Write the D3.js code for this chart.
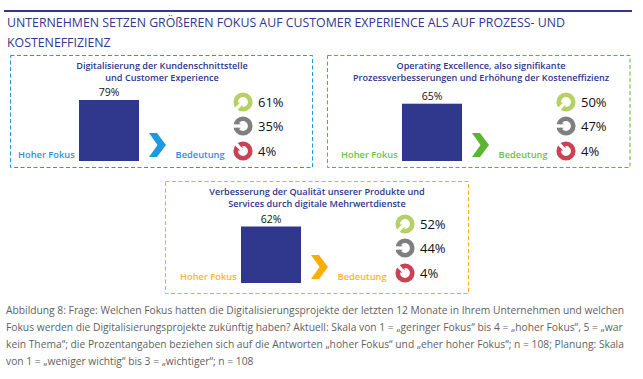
<!DOCTYPE html>
<html><head><meta charset="utf-8">
<script src="https://cdnjs.cloudflare.com/ajax/libs/d3/7.8.5/d3.min.js"></script>
<style>html,body{margin:0;background:#fff}svg{display:block}text{font-family:"Open Sans",sans-serif}</style>
</head><body><svg id="c" width="643" height="379"></svg>
<script>
const titleLines=["UNTERNEHMEN SETZEN GRÖßEREN FOKUS AUF CUSTOMER EXPERIENCE ALS AUF PROZESS- UND","KOSTENEFFIZIENZ"];
const footLines=["Abbildung 8: Frage: Welchen Fokus hatten die Digitalisierungsprojekte der letzten 12 Monate in Ihrem Unternehmen und welchen",
"Fokus werden die Digitalisierungsprojekte zukünftig haben? Aktuell: Skala von 1 = „geringer Fokus“ bis 4 = „hoher Fokus“, 5 = „war",
"kein Thema“; die Prozentangaben beziehen sich auf die Antworten „hoher Fokus“ und „eher hoher Fokus“; n = 108; Planung: Skala",
"von 1 = „weniger wichtig“ bis 3 = „wichtiger“; n = 108"];
const panelTitles=[["Digitalisierung der Kundenschnittstelle","und Customer Experience"],
["Operating Excellence, also signifikante","Prozessverbesserungen und Erhöhung der Kosteneffizienz"],
["Verbesserung der Qualität unserer Produkte und","Services durch digitale Mehrwertdienste"]];
const focusValues=[79,65,62];
const risingValues=[61,50,52];
const steadyValues=[35,47,44];
const fallingValues=[4,4,4];
const accentColors=["#1b9ae0","#5cb531","#fcae07"];
const labelColors=["#2f8fdc","#6cc24a","#fdb42c"];
const focusLabel="Hoher Fokus", planLabel="Bedeutung";
const navy="#2f388c";
const trendColors=["#b5d165","#7f7f7f","#c94354"];
const trendAngles=[-45,0,45];

const frames=[{x:10.5,y:55.5,w:302,h:112,tx:162,dx:0,dy:0},{x:327.5,y:55.5,w:302.5,h:112,tx:481,dx:323,dy:0},{x:165.5,y:181.5,w:303,h:112,tx:317,dx:162,dy:122}];
const svg=d3.select("#c");
svg.append("rect").attr("x",4).attr("y",10).attr("width",628).attr("height",2).attr("fill",navy);
svg.selectAll(".t").data(titleLines).join("text").attr("x",7).attr("y",(d,i)=>27+i*20)
  .attr("font-size",12.35).attr("fill",navy).text(d=>d);
svg.selectAll(".f").data(footLines).join("text").attr("x",6).attr("y",(d,i)=>313.5+i*17)
  .attr("font-size",10.27).attr("fill","#5f5f5f").text(d=>d);

const barH=d3.scaleLinear().domain([62,79]).range([56.5,61]);
const arc=d3.arc();
const line=d3.line();
function icon(g,cx,cy,k){
  const n=g.append("g").attr("transform",`translate(${cx},${cy}) rotate(${trendAngles[k]})`);
  n.append("path").attr("fill",trendColors[k]).attr("d",arc({innerRadius:4.9,outerRadius:9.6,startAngle:0,endAngle:Math.PI*2}));
  n.append("path").attr("fill","#fff").attr("d",line([[-10.5,-1.7],[-3,-1.7],[-3,1.7],[-10.5,1.7]]));
  n.append("path").attr("fill",trendColors[k]).attr("d",line([[-6,-4.6],[-2,-1.7],[-6,-1.7]]));
  n.append("path").attr("fill",trendColors[k]).attr("d",line([[-6,4.6],[-2,1.7],[-6,1.7]]));
}
frames.forEach((p,i)=>{
  svg.append("rect").attr("x",p.x).attr("y",p.y).attr("width",p.w).attr("height",p.h).attr("fill","none").attr("stroke",accentColors[i]).attr("stroke-width",1).attr("stroke-dasharray","4 2.5");
  svg.selectAll(".pt"+i).data(panelTitles[i]).join("text").attr("x",p.tx).attr("y",(d,j)=>p.y+13.5+j*12.3)
    .attr("text-anchor","middle").attr("font-size",9.15).attr("font-weight",600).attr("fill",navy).text(d=>d);
  const g=svg.append("g").attr("transform",`translate(${p.dx},${p.dy})`);
  const base=161, h=barH(focusValues[i]);
  g.append("rect").attr("x",79).attr("y",base-h).attr("width",60).attr("height",h).attr("fill",navy);
  g.append("text").attr("x",109).attr("y",base-h-4).attr("text-anchor","middle").attr("font-size",10.5).attr("fill","#111").text(focusValues[i]+"%");
  g.append("text").attr("x",18).attr("y",base-3).attr("font-size",9.3).attr("font-weight",600).attr("fill",labelColors[i]).text(focusLabel);
  g.append("text").attr("x",175.5).attr("y",base-3).attr("font-size",9.3).attr("font-weight",600).attr("fill",labelColors[i]).text(planLabel);
  g.append("path").attr("fill",accentColors[i]).attr("d",line([[149,133],[157,133],[166,145],[157,157],[149,157],[157.5,145]]));
  [risingValues,steadyValues,fallingValues].forEach((vals,k)=>{
    const cy=[102,126,151][k];
    icon(g,243,cy,k);
    g.append("text").attr("x",258).attr("y",cy+4.5).attr("font-size",13).attr("fill","#111").text(vals[i]+"%");
  });
});
</script></body></html>
